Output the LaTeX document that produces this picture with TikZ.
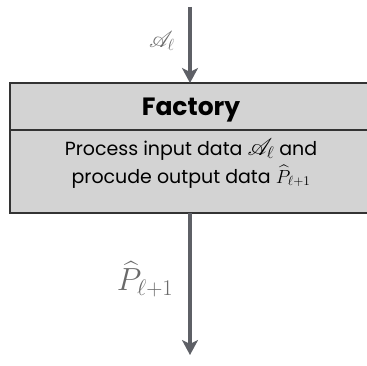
\RequirePackage{fix-cm}
\documentclass[tikz,border=0pt]{standalone}
\usepackage{fontspec}
\setmainfont{Poppins}
\usepackage{amsmath}
\usepackage{mathrsfs}
\DeclareFontFamily{U}{rsfs}{\skewchar\font127 }
\DeclareFontShape{U}{rsfs}{m}{n}{<-6> rsfs5 <6-8> rsfs7 <8-> rsfs10}{}
\usetikzlibrary{arrows.meta}
\definecolor{boxfill}{HTML}{D3D3D3}
\definecolor{boxline}{HTML}{333333}
\definecolor{arrowgray}{HTML}{5E6066}
\definecolor{labelgray}{HTML}{6A6A6A}
\tikzset{
  flow/.style={draw=arrowgray, line width=4pt, -{Stealth[length=15pt,width=16pt,inset=4pt]}},
  lbl/.style={text=labelgray, inner sep=0pt},
  txt/.style={inner sep=0pt, font=\fontsize{19}{22}\selectfont},
}
\newcommand{\bigA}{{\fontsize{24}{22}\selectfont$\mathscr{A}_\ell$}}
\begin{document}
\begin{tikzpicture}[x=1pt,y=1pt]
\useasboundingbox (0,0) rectangle (367,365);
% box
\fill[boxfill] (10,152) rectangle (367,282);
\draw[boxline, line width=1.5pt] (367,282) -- (10,282) -- (10,152) -- (367,152);
\draw[boxline, line width=1.5pt] (10,235) -- (367,235);
\node[inner sep=0pt, anchor=base, font=\fontsize{25}{28}\selectfont\bfseries] (title) at (191,250) {Factory};
\node[txt, anchor=base] (l1) at (191,210) {Process input data \bigA{} and};
\node[txt, anchor=base] (l2) at (191,182) {procude output data $\widehat{P}_{\ell+1}$};
\coordinate (top) at (190,358);
\coordinate (boxtop) at (190,282);
\coordinate (boxbot) at (190,152);
\coordinate (bot) at (190,10);
\draw[flow] (top) -- (boxtop);
\draw[flow] (boxbot) -- (bot);
\node[lbl, font=\fontsize{23}{27}\selectfont] (la) at (162,324) {$\mathscr{A}_\ell$};
\node[lbl, font=\fontsize{32}{36}\selectfont] (lp) at (145,86) {$\widehat{P}_{\ell+1}$};
\end{tikzpicture}
\end{document}
